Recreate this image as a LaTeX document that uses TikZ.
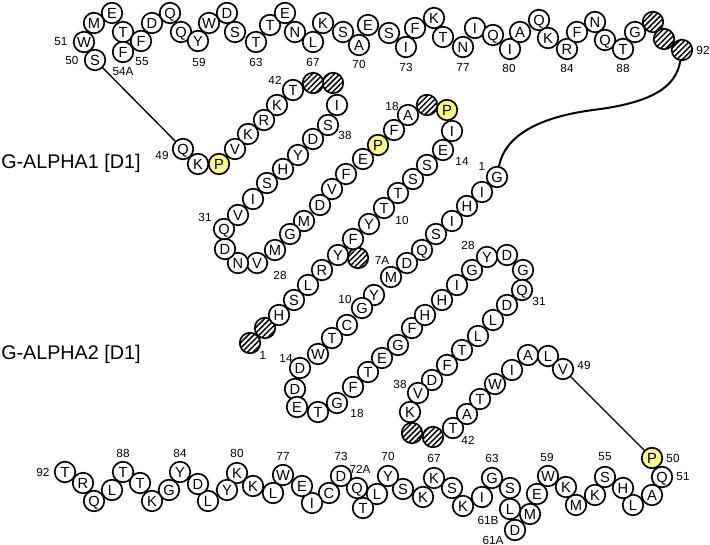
\documentclass[tikz,border=0pt]{standalone}
\usepackage{fontspec}
\setmainfont{Liberation Sans}
\usetikzlibrary{patterns.meta}
\definecolor{pyel}{RGB}{250,248,150}
\tikzset{
  aa/.style={circle, draw, line width=1.25pt, minimum size=15.4pt, inner sep=0pt, fill=white,
    font=\fontsize{11}{12}\selectfont, text height=7.9pt, text depth=0pt},
  yy/.style={aa, fill=pyel},
  hh/.style={circle, draw, line width=1.25pt, minimum size=15.4pt, inner sep=0pt,
    preaction={fill=white}, pattern={Lines[angle=45,distance=2.9pt,line width=1.1pt]}},
  lab/.style={font=\fontsize{8.8}{10}\selectfont, inner sep=0pt},
  title/.style={font=\fontsize{14.8}{17}\selectfont, inner sep=0pt, anchor=west},
  conn/.style={line width=1pt},
  curv/.style={line width=1.5pt}
}
\begin{document}
\begin{tikzpicture}[x=0.75pt,y=-0.75pt]
\useasboundingbox (0,0) rectangle (710,545);
% titles
\node[title] (t1) at (1,163) {G-ALPHA1 [D1]};
\node[title] (t2) at (1,354) {G-ALPHA2 [D1]};
% labels alpha1
\node[lab] (l1a) at (263,355) {1};
\node[lab] (l7a) at (382,260) {7A};
\node[lab] (l10a) at (402,220) {10};
\node[lab] (l14a) at (462,161) {14};
\node[lab] (l18a) at (392,106) {18};
\node[lab] (l28a) at (280,275) {28};
\node[lab] (l31a) at (205,217) {31};
\node[lab] (l38a) at (345,135) {38};
\node[lab] (l42a) at (275,80) {42};
\node[lab] (l49a) at (162,155) {49};
\node[lab] (l50a) at (72,60) {50};
\node[lab] (l51a) at (61,42) {51};
\node[lab] (l54a) at (123,72) {54A};
\node[lab] (l55a) at (142,62) {55};
\node[lab] (l59a) at (199,62) {59};
\node[lab] (l63a) at (256,62) {63};
\node[lab] (l67a) at (313,62) {67};
\node[lab] (l70a) at (359,64) {70};
\node[lab] (l73a) at (406,67) {73};
\node[lab] (l77a) at (463,67) {77};
\node[lab] (l80a) at (509,68) {80};
\node[lab] (l84a) at (567,68) {84};
\node[lab] (l88a) at (623,68) {88};
\node[lab] (l92a) at (703,50) {92};
% labels alpha2
\node[lab] (l1b) at (482,166) {1};
\node[lab] (l10b) at (345,299) {10};
\node[lab] (l14b) at (286,358) {14};
\node[lab] (l18b) at (357,413) {18};
\node[lab] (l28b) at (468,245) {28};
\node[lab] (l31b) at (539,301) {31};
\node[lab] (l38b) at (400,384) {38};
\node[lab] (l42b) at (468,440) {42};
\node[lab] (l49b) at (584,365) {49};
\node[lab] (l50b) at (673,458) {50};
\node[lab] (l51b) at (683,477) {51};
\node[lab] (l55b) at (605,457) {55};
\node[lab] (l59b) at (547,457) {59};
\node[lab] (l61ab) at (493,540) {61A};
\node[lab] (l61bb) at (488,520) {61B};
\node[lab] (l63b) at (492,458) {63};
\node[lab] (l67b) at (434,458) {67};
\node[lab] (l70b) at (388,456) {70};
\node[lab] (l72ab) at (360,469) {72A};
\node[lab] (l73b) at (341,456) {73};
\node[lab] (l77b) at (283,456) {77};
\node[lab] (l80b) at (237,453) {80};
\node[lab] (l84b) at (180,453) {84};
\node[lab] (l88b) at (123,453) {88};
\node[lab] (l92b) at (43,472) {92};
% alpha1 residues
\node[hh] (p1) at (250,343) {};
\node[hh] (p2) at (265,328) {};
\node[aa] (p3) at (279,315) {H};
\node[aa] (p4) at (294,300) {S};
\node[aa] (p5) at (308,285) {L};
\node[aa] (p6) at (322,270) {R};
\node[aa] (p7) at (338,255) {Y};
\node[hh] (p7a) at (358,258) {};
\node[aa] (p8) at (353,239) {F};
\node[aa] (p9) at (369,224) {Y};
\node[aa] (p10) at (384,208) {T};
\node[aa] (p11) at (398,193) {T};
\node[aa] (p12) at (413,179) {S};
\node[aa] (p13) at (427,165) {S};
\node[aa] (p14) at (443,150) {E};
\node[aa] (p15) at (452,131) {I};
\node[yy] (p16) at (447,110) {P};
\node[hh] (p17) at (427,105) {};
\node[aa] (p18) at (408,115) {A};
\node[aa] (p19) at (394,130) {F};
\node[yy] (p20) at (378,145) {P};
\node[aa] (p21) at (363,159) {E};
\node[aa] (p22) at (346,174) {F};
\node[aa] (p23) at (332,189) {V};
\node[aa] (p24) at (320,205) {D};
\node[aa] (p25) at (304,221) {M};
\node[aa] (p26) at (290,234) {G};
\node[aa] (p27) at (275,250) {M};
\node[aa] (p28) at (257,263) {V};
\node[aa] (p29) at (238,263) {N};
\node[aa] (p30) at (225,249) {D};
\node[aa] (p31) at (224,229) {Q};
\node[aa] (p32) at (238,215) {V};
\node[aa] (p33) at (253,199) {I};
\node[aa] (p34) at (267,183) {S};
\node[aa] (p35) at (283,169) {H};
\node[aa] (p36) at (298,155) {Y};
\node[aa] (p37) at (313,139) {D};
\node[aa] (p38) at (328,125) {S};
\node[aa] (p39) at (337,105) {I};
\node[hh] (p40) at (333,83) {};
\node[hh] (p41) at (313,83) {};
\node[aa] (p42) at (293,90) {T};
\node[aa] (p43) at (277,105) {K};
\node[aa] (p44) at (264,120) {R};
\node[aa] (p45) at (248,134) {K};
\node[aa] (p46) at (235,149) {V};
\node[yy] (p47) at (219,164) {P};
\node[aa] (p48) at (198,164) {K};
\node[aa] (p49) at (183,149) {Q};
\node[aa] (p50) at (95,60) {S};
\node[aa] (p51) at (84,42) {W};
\node[aa] (p52) at (94,23) {M};
\node[aa] (p53) at (112,13) {E};
\node[aa] (p54) at (123,32) {T};
\node[aa] (p54a) at (123,52) {F};
\node[aa] (p55) at (141,41) {F};
\node[aa] (p56) at (152,23) {D};
\node[aa] (p57) at (170,13) {Q};
\node[aa] (p58) at (181,32) {Q};
\node[aa] (p59) at (198,41) {Y};
\node[aa] (p60) at (209,23) {W};
\node[aa] (p61) at (227,13) {D};
\node[aa] (p62) at (235,32) {S};
\node[aa] (p63) at (256,42) {T};
\node[aa] (p64) at (270,25) {T};
\node[aa] (p65) at (285,13) {E};
\node[aa] (p66) at (295,32) {N};
\node[aa] (p67) at (313,42) {L};
\node[aa] (p68) at (323,23) {K};
\node[aa] (p69) at (343,32) {S};
\node[aa] (p70) at (359,45) {A};
\node[aa] (p71) at (368,25) {E};
\node[aa] (p72) at (389,33) {S};
\node[aa] (p73) at (406,47) {I};
\node[aa] (p74) at (415,28) {F};
\node[aa] (p75) at (434,18) {K};
\node[aa] (p76) at (443,37) {T};
\node[aa] (p77) at (463,47) {N};
\node[aa] (p78) at (475,28) {I};
\node[aa] (p79) at (493,35) {Q};
\node[aa] (p80) at (510,49) {I};
\node[aa] (p81) at (520,32) {A};
\node[aa] (p82) at (539,20) {Q};
\node[aa] (p83) at (548,38) {K};
\node[aa] (p84) at (567,49) {R};
\node[aa] (p85) at (577,32) {F};
\node[aa] (p86) at (595,22) {N};
\node[aa] (p87) at (605,40) {Q};
\node[aa] (p88) at (623,49) {T};
\node[aa] (p89) at (635,32) {G};
\node[hh] (p90) at (653,22) {};
\node[hh] (p91) at (664,39) {};
\node[hh] (p92) at (682,50) {};
% alpha2 residues
\node[aa] (q1) at (497,177) {G};
\node[aa] (q2) at (482,192) {I};
\node[aa] (q3) at (467,206) {H};
\node[aa] (q4) at (452,221) {I};
\node[aa] (q5) at (436,234) {S};
\node[aa] (q6) at (422,250) {Q};
\node[aa] (q7) at (407,263) {D};
\node[aa] (q8) at (391,277) {M};
\node[aa] (q9) at (374,295) {Y};
\node[aa] (q10) at (362,308) {G};
\node[aa] (q11) at (347,325) {C};
\node[aa] (q12) at (332,338) {T};
\node[aa] (q13) at (318,354) {W};
\node[aa] (q14) at (300,368) {D};
\node[aa] (q15) at (295,389) {D};
\node[aa] (q16) at (297,407) {E};
\node[aa] (q17) at (318,412) {T};
\node[aa] (q18) at (337,403) {G};
\node[aa] (q19) at (353,387) {F};
\node[aa] (q20) at (368,372) {T};
\node[aa] (q21) at (382,358) {E};
\node[aa] (q22) at (398,345) {G};
\node[aa] (q23) at (412,328) {F};
\node[aa] (q24) at (425,315) {H};
\node[aa] (q25) at (442,300) {H};
\node[aa] (q26) at (457,285) {I};
\node[aa] (q27) at (472,270) {G};
\node[aa] (q28) at (487,257) {Y};
\node[aa] (q29) at (507,255) {D};
\node[aa] (q30) at (523,270) {G};
\node[aa] (q31) at (522,290) {Q};
\node[aa] (q32) at (507,305) {D};
\node[aa] (q33) at (493,320) {L};
\node[aa] (q34) at (478,336) {L};
\node[aa] (q35) at (462,350) {T};
\node[aa] (q36) at (447,365) {F};
\node[aa] (q37) at (432,380) {D};
\node[aa] (q38) at (418,393) {V};
\node[aa] (q39) at (410,412) {K};
\node[hh] (q40) at (412,433) {};
\node[hh] (q41) at (433,437) {};
\node[aa] (q42) at (453,428) {T};
\node[aa] (q43) at (467,414) {A};
\node[aa] (q44) at (480,399) {T};
\node[aa] (q45) at (495,384) {W};
\node[aa] (q46) at (512,370) {I};
\node[aa] (q47) at (528,355) {A};
\node[aa] (q48) at (548,356) {L};
\node[aa] (q49) at (563,369) {V};
\node[yy] (q50) at (652,458) {P};
\node[aa] (q51) at (662,477) {Q};
\node[aa] (q52) at (652,495) {A};
\node[aa] (q53) at (633,505) {L};
\node[aa] (q54) at (623,488) {H};
\node[aa] (q55) at (605,477) {S};
\node[aa] (q56) at (595,495) {K};
\node[aa] (q57) at (576,505) {M};
\node[aa] (q58) at (566,487) {K};
\node[aa] (q59) at (548,476) {W};
\node[aa] (q60) at (537,494) {E};
\node[aa] (q61) at (530,514) {M};
\node[aa] (q61a) at (515,530) {D};
\node[aa] (q61b) at (510,509) {L};
\node[aa] (q62) at (510,488) {S};
\node[aa] (q63) at (492,478) {G};
\node[aa] (q64) at (482,497) {I};
\node[aa] (q65) at (463,506) {K};
\node[aa] (q66) at (452,488) {S};
\node[aa] (q67) at (434,478) {K};
\node[aa] (q68) at (423,497) {K};
\node[aa] (q69) at (403,489) {S};
\node[aa] (q70) at (388,476) {Y};
\node[aa] (q71) at (377,494) {L};
\node[aa] (q72) at (363,508) {T};
\node[aa] (q72a) at (357,488) {Q};
\node[aa] (q73) at (341,476) {D};
\node[aa] (q74) at (329,493) {C};
\node[aa] (q75) at (312,503) {I};
\node[aa] (q76) at (302,486) {E};
\node[aa] (q77) at (283,475) {W};
\node[aa] (q78) at (273,493) {L};
\node[aa] (q79) at (253,486) {K};
\node[aa] (q80) at (237,473) {K};
\node[aa] (q81) at (227,490) {Y};
\node[aa] (q82) at (208,501) {L};
\node[aa] (q83) at (198,484) {D};
\node[aa] (q84) at (180,472) {Y};
\node[aa] (q85) at (169,490) {G};
\node[aa] (q86) at (152,501) {K};
\node[aa] (q87) at (140,483) {T};
\node[aa] (q88) at (123,472) {T};
\node[aa] (q89) at (112,490) {L};
\node[aa] (q90) at (94,501) {Q};
\node[aa] (q91) at (83,483) {R};
\node[aa] (q92) at (65,472) {T};
% connectors
\draw[conn] (p49) -- (p50);
\draw[conn] (q49) -- (q50);
\coordinate (cm) at (593,110);
\draw[curv] (p92) .. controls (676,88) and (650,103) .. (cm)
  .. controls (540,117) and (505,135) .. (q1);
\end{tikzpicture}
\end{document}
